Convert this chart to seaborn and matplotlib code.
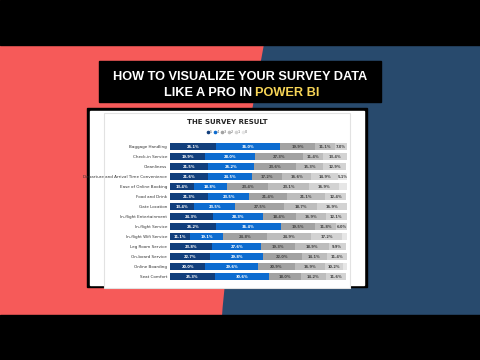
import numpy as np
import pandas as pd
import seaborn as sns
import matplotlib.pyplot as plt
from matplotlib.patches import Rectangle, PathPatch
from matplotlib.path import Path
from matplotlib.lines import Line2D

sns.set_theme(style="white")
plt.rcParams['font.family'] = ['DejaVu Sans']

# survey categories and share of each rating (5 .. 0), in percent
categories = ["Baggage Handling", "Check-in Service", "Cleanliness",
              "Departure and Arrival Time Convenience", "Ease of Online Booking",
              "Food and Drink", "Gate Location", "In-flight Entertainment",
              "In-flight Service", "In-flight Wifi Service", "Leg Room Service",
              "On-board Service", "Online Boarding", "Seat Comfort"]
rating_5 = [26.1, 19.9, 21.5, 21.6, 13.4, 21.3, 13.4, 24.3, 26.2, 11.1, 23.8, 22.7, 20.0, 25.3]
rating_4 = [36.0, 28.0, 26.2, 24.5, 18.8, 23.5, 23.5, 28.3, 36.4, 19.1, 27.6, 29.8, 29.6, 30.6]
rating_3 = [19.9, 27.3, 23.6, 17.2, 23.4, 21.4, 27.5, 18.4, 19.5, 24.8, 19.3, 22.0, 20.9, 18.0]
rating_2 = [11.1, 11.4, 15.3, 16.6, 23.1, 21.1, 18.7, 16.9, 11.8, 24.9, 18.9, 14.1, 16.9, 14.2]
rating_1 = [7.0, 13.4, 12.9, 14.9, 16.9, 12.4, 16.9, 12.1, 6.0, 17.2, 9.9, 11.4, 10.2, 11.6]
rating_0 = [0.0, 0.0, 0.0, 5.1, 4.4, 0.0, 0.0, 0.0, 0.0, 2.9, 0.0, 0.0, 2.4, 0.0]
ratings = ["5", "4", "3", "2", "1", "0"]

colors = ["#123f7c", "#0d6cd0", "#a2a2a2", "#bdbdbd", "#d3d3d3", "#e6e6e6"]

vals = np.array([rating_5, rating_4, rating_3, rating_2, rating_1, rating_0])
cum = vals.cumsum(axis=0)
rows = []
for i, r in enumerate(ratings):
    for j, c in enumerate(categories):
        rows.append({"cat": c, "rating": r, "value": vals[i, j], "end": cum[i, j]})
df = pd.DataFrame(rows)

fig = plt.figure(figsize=(4.8, 3.6), dpi=100)

# ---- thumbnail background ----
bg = fig.add_axes([0, 0, 1, 1])
bg.set_xlim(0, 480)
bg.set_ylim(360, 0)
bg.axis("off")
bg.add_patch(Rectangle((0, 0), 480, 360, color="#f65a59", zorder=0))
verts = [(264, 44), (226, 250), (222, 316), (222, 316), (480, 316), (480, 44), (264, 44)]
codes = [Path.MOVETO, Path.CURVE3, Path.CURVE3, Path.LINETO, Path.LINETO, Path.LINETO, Path.CLOSEPOLY]
bg.add_patch(PathPatch(Path(verts, codes), facecolor="#284a6d", edgecolor="none", zorder=1))
bg.add_patch(Rectangle((0, 0), 480, 45, color="black", zorder=2))
bg.add_patch(Rectangle((0, 315), 480, 45, color="black", zorder=2))

# title banner
bg.add_patch(Rectangle((99, 61), 282, 41, color="black", zorder=3))
hfont = ['Liberation Sans', 'DejaVu Sans']
bg.text(240, 80.5, "HOW TO VISUALIZE YOUR SURVEY DATA", ha="center", va="baseline",
        color="white", fontsize=9.2, fontweight="bold", family=hfont, zorder=4)
bg.text(252, 96.5, "LIKE A PRO IN", ha="right", va="baseline",
        color="white", fontsize=9.2, fontweight="bold", family=hfont, zorder=4)
bg.text(255, 96.5, "POWER BI", ha="left", va="baseline",
        color="#f6d456", fontsize=9.2, fontweight="bold", family=hfont, zorder=4)

# white panel with black frame
bg.add_patch(Rectangle((87, 108), 280, 179, color="black", zorder=3))
bg.add_patch(Rectangle((90, 111), 274, 174, color="white", zorder=4))
bg.add_patch(Rectangle((104, 113), 246, 175, facecolor="white", edgecolor="#e2e2e2", lw=0.8, zorder=4))
bg.text(227, 124, "THE SURVEY RESULT", ha="center", va="baseline",
        color="#252525", fontsize=5, fontweight="bold", zorder=5)

# ---- stacked bar chart ----
ax = fig.add_axes([170 / 480, 1 - 282 / 360, 177 / 480, 140.5 / 360])
ax.set_zorder(5)
ax.patch.set_alpha(0)
for i in range(len(ratings) - 1, -1, -1):
    sub = df[df["rating"] == ratings[i]]
    sns.barplot(data=sub, x="end", y="cat", order=categories, color=colors[i],
                width=0.7, orient="h", saturation=1, linewidth=0, ax=ax)

for i in range(len(ratings)):
    for j in range(len(categories)):
        v = vals[i, j]
        if v < 5:
            continue
        center = cum[i, j] - v / 2
        ax.text(center, j, f"{v:.1f}%", ha="center", va="center", fontsize=2.6,
                fontweight="bold", color="white" if i < 2 else "#444444")

ax.set_xlim(0, 100)
ax.set_xlabel("")
ax.set_ylabel("")
ax.set_xticks([])
ax.tick_params(axis="y", length=0, pad=2, labelsize=3, labelcolor="#333333")
sns.despine(ax=ax, left=True, bottom=True)

handles = [Line2D([], [], marker="o", linestyle="none", color=c, markersize=1.6) for c in colors]
fig.legend(handles, ratings, loc="center", bbox_to_anchor=(227 / 480, 1 - 132 / 360),
           ncol=6, fontsize=2.5, frameon=False, handletextpad=0.1, columnspacing=0.5,
           handlelength=0.8, labelcolor="#666666")

fig.savefig("out.png", dpi=100)
